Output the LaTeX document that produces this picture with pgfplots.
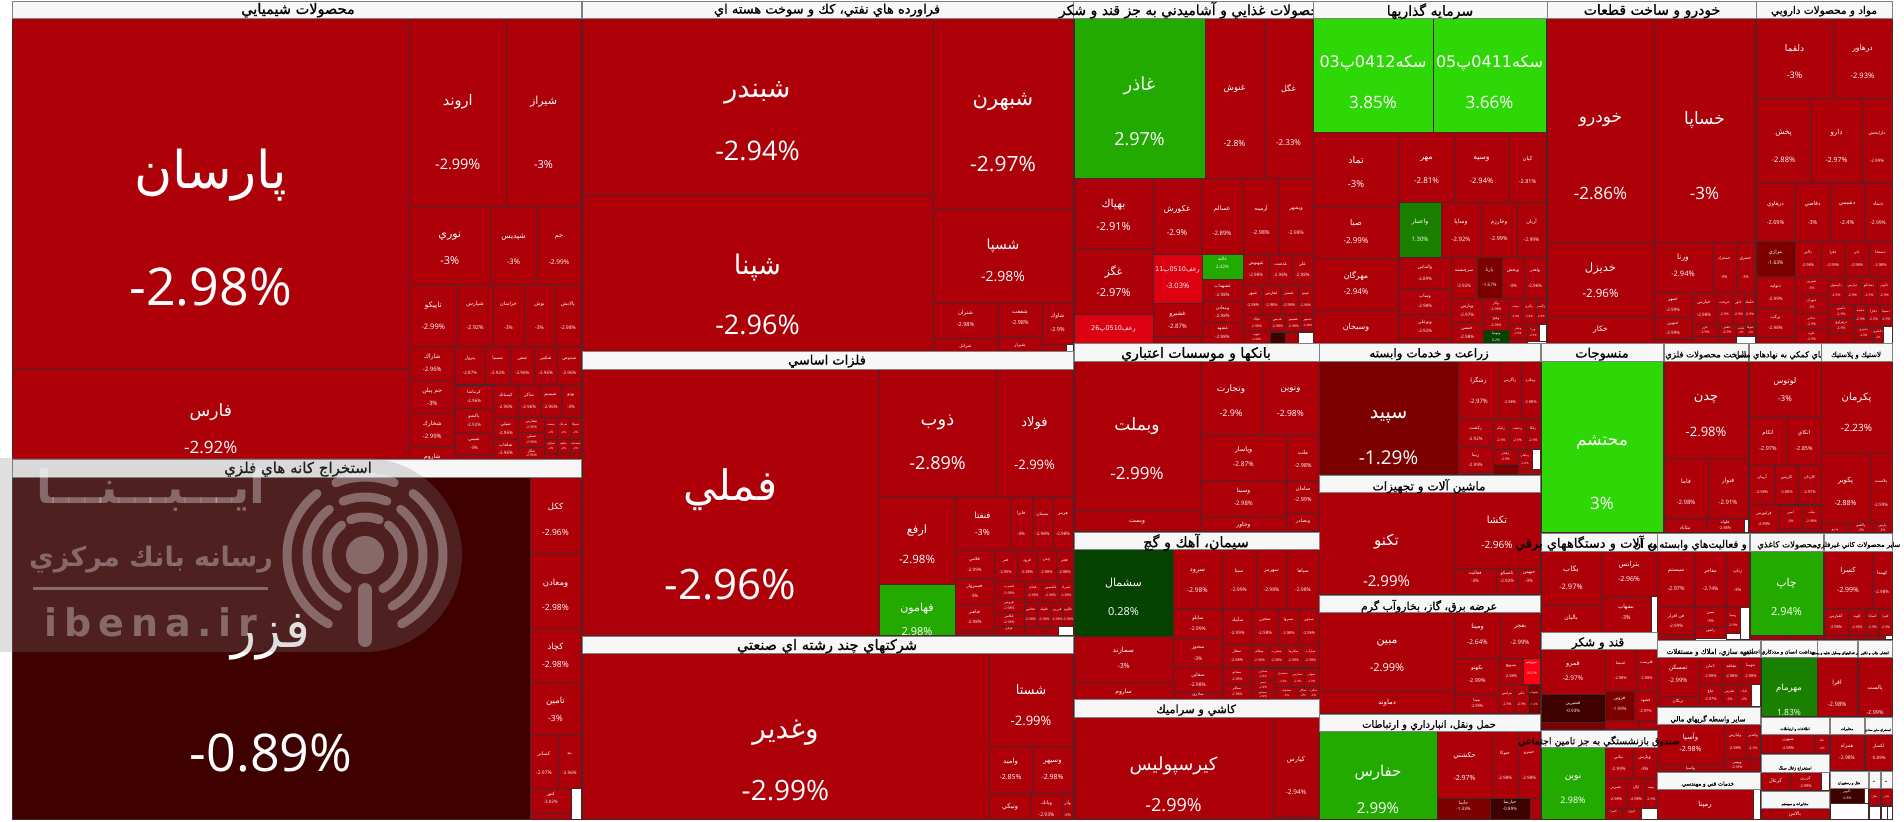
\documentclass[border=0pt]{standalone}
\usepackage{fontspec}
\usepackage{pgfplots}
\pgfplotsset{compat=1.18}
\setmainfont{Open Sans}
\newfontfamily\arabicfont[Script=Arabic]{DejaVu Sans}
\newfontfamily\hdfont[Script=Arabic,FakeBold=0.8]{DejaVu Sans}
\newfontfamily\wmfont{DejaVu Sans}
\TeXXeTstate=1
\definecolor{red0}{HTML}{AD0009}
\definecolor{red1}{HTML}{7D0000}
\definecolor{red2}{HTML}{3F0000}
\definecolor{red3}{HTML}{DD0011}
\definecolor{red4}{HTML}{FF0014}
\definecolor{grn0}{HTML}{22AA00}
\definecolor{grn1}{HTML}{2DD806}
\definecolor{grn2}{HTML}{1A8000}
\definecolor{grn3}{HTML}{044400}
\definecolor{cellline}{HTML}{4A2528}
\newcommand\ar[1]{{\arabicfont\beginR #1\endR}}
% rectangle in pixel coordinates
\newcommand\rc[5]{\addplot[fill=#5,draw=cellline,line width=.7pt] coordinates {(#1,#2) (#3,#2) (#3,#4) (#1,#4)} --cycle;}
\newcommand\lbl[4]{\edef\lblrun{\noexpand\node[text=white,inner sep=0pt,font=\noexpand\fontsize{#3}{#3}\noexpand\selectfont] at (axis cs:#1,#2) {\unexpanded{#4}};}\lblrun}
% cell with explicit label rows: x0 y0 x1 y1 colour size nameY pctY {name} {pct}
\newcommand\cl[9]{\rc{#1}{#2}{#3}{#4}{#5}\pgfmathsetmacro\mx{(#1+#3)/2}\lbl{\mx}{#7}{#6}{\ar{#9}}\clpct{#8}{#6}}
\newcommand\clpct[3]{\lbl{\mx}{#1}{#2}{#3}}
% small red cell, label rows placed automatically: x0 y0 x1 y1 size {name} {pct}
\newcommand\ct[7]{\rc{#1}{#2}{#3}{#4}{red0}\pgfmathsetmacro\mx{(#1+#3)/2}\pgfmathsetmacro\ny{#2+.33*(#4-#2)}\pgfmathsetmacro\py{#2+.7*(#4-#2)}\lbl{\mx}{\ny}{#5}{\ar{#6}}\lbl{\mx}{\py}{#5}{#7}}
% group header: x0 y0 x1 y1 cx cy size {title}
\newcommand\hd[8]{\addplot[fill=white!97!black,draw=gray,line width=.7pt] coordinates {(#1,#2) (#3,#2) (#3,#4) (#1,#4)} --cycle;\node[text=black,inner sep=0pt,yshift=-1.2pt,font=\fontsize{#7}{#7}\selectfont] at (axis cs:#5,#6) {\hdfont #8};}
\begin{document}
\begin{tikzpicture}
\begin{axis}[hide axis,scale only axis,width=1904pt,height=822pt,xmin=0,xmax=1904,ymin=0,ymax=822,y dir=reverse,clip=false]
% chemicals
\cl{12}{18}{409.5}{368}{red0}{52}{175}{287}{پارسان}{-2.98\%}
\cl{12}{368}{409.5}{460}{red0}{17}{412}{447}{فارس}{-2.92\%}
\cl{409.5}{18}{506}{206}{red0}{14.5}{102}{164}{اروند}{-2.99\%}
\cl{506}{18}{581}{206}{red0}{11}{102}{165}{شيراز}{-3\%}
\cl{409.5}{206}{490}{284}{red0}{11}{236}{261}{نوري}{-3\%}
\cl{490}{206}{537}{284}{red0}{7.5}{237}{262}{شپديس}{-3\%}
\cl{537}{206}{581}{284}{red0}{6.5}{237}{262}{جم}{-2.99\%}
\cl{409.5}{284}{457}{346}{red0}{7.5}{306}{327}{تاپيكو}{-2.99\%}
\ct{457}{284}{493}{346}{5.5}{شپارس}{-2.92\%}
\ct{493}{284}{524}{346}{5}{خراسان}{-3\%}
\ct{524}{284}{555}{346}{5}{نوش}{-3\%}
\ct{555}{284}{581}{346}{5}{پالايش}{-2.98\%}
\ct{409.5}{346}{455}{380}{6}{شاراك}{-2.96\%}
\ct{455}{346}{485}{384}{4.5}{پترول}{-2.87\%}
\ct{485}{346}{510.5}{384}{4.5}{شسپا}{-2.92\%}
\ct{510.5}{346}{534}{384}{4.5}{شفن}{-2.96\%}
\ct{534}{346}{557.5}{384}{4.5}{شكبير}{-2.96\%}
\ct{557.5}{346}{581}{384}{4.5}{شدوص}{-2.96\%}
\ct{409.5}{380}{455}{413}{6}{\beginR جم پيلن\endR}{-3\%}
\ct{409.5}{413}{455}{446}{6}{شخارك}{-2.99\%}
\ct{409.5}{446}{455}{480}{6}{شاروم}{-2.96\%}
\ct{455}{385}{493}{408}{4.5}{كرماشا}{-2.96\%}
\ct{455}{408}{493}{432}{4.5}{پاكشو}{-2.92\%}
\ct{455}{432}{493}{454}{4.5}{شيمي}{-3\%}
\rc{455}{454}{493}{460}{red0}
\ct{493}{384}{518}{417}{4.5}{كيمياتك}{-2.96\%}
\ct{518}{384}{540}{417}{4.5}{شاكر}{-2.96\%}
\ct{540}{384}{561}{417}{4.5}{شيميم}{-2.96\%}
\ct{561}{384}{581}{417}{4.5}{بوتو}{-3\%}
\ct{493}{417}{518.5}{439}{4.5}{شپلي}{-2.96\%}
\ct{493}{439}{518.5}{459}{4.5}{شلعاب}{-2.96\%}
\ct{518.5}{417}{544.6}{432}{3.5}{شفارس}{-2.96\%}
\ct{518.5}{432}{544.6}{447}{3.5}{شملي}{-2.96\%}
\ct{518.5}{447}{544.6}{459}{3.5}{شگل}{-2.96\%}
\ct{544.6}{417}{557}{439}{3}{شنفت}{-2\%}
\ct{557}{417}{570}{439}{3}{شرنگ}{-2\%}
\ct{570}{417}{581}{439}{3}{شتوكا}{-2\%}
\ct{544.6}{439}{557}{453}{3}{شاوان}{-2\%}
\ct{557}{439}{570}{453}{3}{شلغم}{-2\%}
\ct{570}{439}{581}{453}{3}{شصدف}{-2\%}
\rc{544.6}{453}{557}{459}{red0}\rc{557}{453}{570}{459}{red0}\rc{570}{453}{581}{459}{red0}
% metal ore mining
\cl{12}{477}{530}{819}{red2}{52}{637}{753}{فزر}{-0.89\%}
\cl{530}{477}{581}{553}{red0}{8.5}{507}{532}{ككل}{-2.96\%}
\cl{530}{553}{581}{628}{red0}{8.5}{583}{607}{ومعادن}{-2.98\%}
\cl{530}{628}{581}{682}{red0}{8.5}{647}{664}{كچاد}{-2.98\%}
\cl{530}{682}{581}{735}{red0}{8.5}{701}{718}{تامين}{-3\%}
\cl{530}{735}{558}{788}{red0}{5}{754}{773}{كسانر}{-2.97\%}
\cl{558}{735}{581}{788}{red0}{4.5}{754}{773}{بند}{-2.96\%}
\cl{530}{788}{571.5}{813}{red0}{4.5}{794}{802}{كنور}{-3.02\%}
\rc{530}{813}{571.5}{819}{red0}\rc{571.5}{788}{581}{819}{white}
% refinery products
\cl{582}{18}{933}{195}{red0}{27}{93}{151}{شبندر}{-2.94\%}
\cl{582}{195}{933}{351}{red0}{27}{268}{325}{شپنا}{-2.96\%}
\cl{933}{18}{1073}{209}{red0}{21}{102}{164}{شبهرن}{-2.97\%}
\cl{933}{209}{1073}{303}{red0}{14}{246}{277}{شسپا}{-2.98\%}
\cl{933}{303}{998}{338}{red0}{5.5}{313}{325}{شتران}{-2.98\%}
\cl{998}{303}{1042}{337}{red0}{5.5}{312}{323}{شفقت}{-2.98\%}
\cl{1042}{303}{1073}{344}{red0}{5.5}{316}{330}{شاوك}{-2.9\%}
\cl{933}{338}{998}{351}{red0}{4.5}{346}{354}{شرانل}{}
\cl{998}{337}{1042}{351}{red0}{4.5}{345}{354}{شيراز}{}
\rc{1042}{344}{1066}{351}{red0}\rc{1066}{344}{1073}{351}{white}
% basic metals
\cl{582}{369}{879}{635}{red0}{42}{490}{585}{فملي}{-2.96\%}
\cl{879}{369}{996}{496}{red0}{18}{422}{463}{ذوب}{-2.89\%}
\cl{996}{369}{1073}{496}{red0}{13}{423}{465}{فولاد}{-2.99\%}
\cl{879}{496}{955}{584}{red0}{11.5}{531}{559}{ارفع}{-2.98\%}
\cl{879}{584}{955}{635}{grn0}{11}{609}{632}{فهامون}{2.98\%}
\cl{955}{496}{1010}{550}{red0}{8.5}{515}{532}{فنفتا}{-3\%}
\ct{1010}{496}{1032}{550}{4.5}{فايرا}{-3\%}
\ct{1032}{496}{1053}{550}{4.5}{سيمان}{-2.98\%}
\ct{1053}{496}{1073}{550}{4.5}{هرمز}{-2.98\%}
\ct{955}{550}{994}{578}{4.5}{فلامي}{-2.99\%}
\ct{994}{550}{1017}{581}{4}{فنر}{-2.95\%}
\ct{1017}{550}{1037}{581}{4}{فرود}{-2.98\%}
\ct{1037}{550}{1056}{581}{4}{چدن}{-2.98\%}
\ct{1056}{550}{1073}{581}{4}{فجر}{-2.98\%}
\ct{955}{578}{994}{604}{4.5}{فسبزوار}{-3\%}
\ct{955}{604}{994}{630}{4.5}{فباهنر}{-2.98\%}
\rc{955}{630}{994}{635}{red0}
\ct{994}{581}{1024}{598}{3.5}{فسرب}{-2.98\%}
\ct{994}{598}{1024}{612}{3.5}{فروس}{-2.98\%}
\ct{994}{612}{1024}{626}{3.5}{فكاس}{-2.98\%}
\ct{994}{626}{1024}{635}{3}{فولاي}{}
\ct{1024}{581}{1042}{602}{3.5}{فجام}{-2.98\%}
\ct{1042}{581}{1059}{602}{3.5}{فاسمين}{-2.98\%}
\ct{1059}{581}{1073}{602}{3.5}{فمراد}{-2.98\%}
\ct{1024}{602}{1037}{626}{3.5}{فخاس}{-2.98\%}
\ct{1037}{602}{1051}{626}{3.5}{فلوله}{-2.98\%}
\ct{1051}{602}{1063}{626}{3.5}{فزرين}{-2.98\%}
\ct{1063}{602}{1073}{626}{3.5}{فالوم}{-2.98\%}
\rc{1024}{626}{1044}{635}{red0}\rc{1044}{626}{1058}{635}{red0}\rc{1058}{626}{1073}{635}{white}
% diversified industrials
\cl{582}{653}{989}{819}{red0}{28}{733}{791}{وغدير}{-2.99\%}
\cl{989}{653}{1073}{746}{red0}{13}{690}{721}{شستا}{-2.99\%}
\cl{989}{746}{1032}{793}{red0}{7}{762}{777}{واميد}{-2.85\%}
\cl{1032}{746}{1073}{793}{red0}{7}{762}{777}{وسپهر}{-2.98\%}
\cl{989}{793}{1031}{819}{red0}{6.5}{807}{824}{ونيكي}{}
\cl{1031}{793}{1062}{819}{red0}{5}{803}{815}{وبانك}{-2.93\%}
\cl{1062}{793}{1073}{819}{red0}{4}{803}{815}{وآذر}{-2\%}
% food
\cl{1074}{18}{1205}{178}{grn0}{18}{86}{139}{غاذر}{2.97\%}
\cl{1205}{18}{1264}{178}{red0}{8.5}{89}{143}{غنوش}{-2.8\%}
\cl{1264}{18}{1313}{178}{red0}{8}{89}{143}{غگل}{-2.33\%}
\cl{1074}{178}{1153}{248}{red0}{11}{205}{227}{بهپاك}{-2.91\%}
\cl{1074}{248}{1153}{314}{red0}{11}{272}{293}{غگز}{-2.97\%}
\rc{1074}{314}{1153}{343}{red3}\lbl{1113.5}{329}{6.5}{\ar{رعف\beginL 0510\endL پ\beginL 26\endL}}
\cl{1153}{178}{1201}{254}{red0}{8}{209}{233}{غكورش}{-2.9\%}
\cl{1201}{178}{1243}{254}{red0}{6}{209}{233}{غسالم}{-2.89\%}
\cl{1243}{178}{1279}{254}{red0}{5.5}{209}{233}{آرمينه}{-2.98\%}
\cl{1279}{178}{1313}{254}{red0}{5}{209}{233}{ويشهر}{-2.98\%}
\rc{1153}{254}{1202}{303}{red3}\lbl{1177.5}{270}{6.5}{\ar{رعف\beginL 0510\endL پ\beginL 11\endL}}\lbl{1177.5}{286}{7.5}{-3.03\%}
\cl{1202}{254}{1243}{279}{grn0}{4.5}{259}{267}{غاليه}{2.42\%}
\ct{1243}{254}{1269}{284}{4.5}{غبهنوش}{-2.98\%}
\ct{1269}{254}{1292}{284}{4.5}{غدشت}{-2.98\%}
\ct{1292}{254}{1313}{284}{4.5}{غلر}{-2.98\%}
\ct{1202}{279}{1243}{301}{4.5}{غشهداب}{-2.98\%}
\ct{1202}{301}{1243}{322}{4.5}{ومعادن}{-2.98\%}
\ct{1202}{322}{1243}{343}{4.5}{غشهد}{-2.98\%}
\ct{1243}{284}{1263}{314}{4}{غمهر}{-2.98\%}
\ct{1263}{284}{1280}{314}{4}{غفارس}{-2.98\%}
\ct{1280}{284}{1298}{314}{4}{غسبز}{-2.98\%}
\ct{1298}{284}{1313}{314}{3.5}{غپينو}{-2.98\%}
\ct{1243}{314}{1270}{331}{3.5}{غپاك}{-2.98\%}
\ct{1270}{314}{1285}{331}{3.5}{غديس}{-2.98\%}
\ct{1285}{314}{1302}{331}{3.5}{غصينو}{-2.98\%}
\ct{1302}{314}{1313}{331}{3}{غبشهر}{-2.98\%}
\ct{1243}{331}{1270}{343}{3}{غپونه}{-2.98\%}
\rc{1270}{332}{1285}{343}{red2}\rc{1285}{332}{1298}{343}{red0}\rc{1298}{332}{1313}{343}{white}
\ct{1153}{303}{1202}{336}{6}{غشيرو}{-2.87\%}
\rc{1153}{336}{1202}{343}{red0}
% investments
\rc{1313}{18}{1433}{132}{grn1}\lbl{1373}{63}{16}{\ar{سكه\beginL 0412\endL پ\beginL 03\endL}}\lbl{1373}{102}{17}{3.85\%}
\rc{1433}{18}{1546}{132}{grn1}\lbl{1489.5}{63}{16}{\ar{سكه\beginL 0411\endL پ\beginL 05\endL}}\lbl{1489.5}{102}{17}{3.66\%}
\cl{1313}{132}{1399}{206}{red0}{9.5}{160}{184}{تماد}{-3\%}
\cl{1399}{132}{1454}{202}{red0}{8}{159}{181}{مهر}{-2.81\%}
\cl{1454}{132}{1509}{202}{red0}{7.5}{159}{181}{وسپه}{-2.94\%}
\cl{1509}{132}{1546}{202}{red0}{5.5}{159}{182}{كيان}{-2.81\%}
\cl{1313}{206}{1399}{258}{red0}{8}{223}{241}{صبا}{-2.99\%}
\cl{1313}{258}{1399}{310}{red0}{8}{276}{292}{مهرگان}{-2.94\%}
\cl{1313}{310}{1399}{343}{red0}{8}{327}{341}{وسبحان}{}
\cl{1399}{202}{1441}{257}{grn2}{6}{222}{239}{واعتبار}{1.30\%}
\cl{1441}{202}{1481}{257}{red0}{6}{222}{239}{وساپا}{-2.92\%}
\cl{1481}{202}{1517}{257}{red0}{5.5}{222}{239}{وخارزم}{-2.99\%}
\cl{1517}{202}{1546}{257}{red0}{5}{222}{240}{آريان}{-2.99\%}
\ct{1399}{257}{1451}{288}{4.5}{والماس}{-2.89\%}
\ct{1399}{288}{1451}{314}{4.5}{وساپ}{-2.98\%}
\ct{1399}{314}{1451}{338}{4.5}{وبوعلي}{-2.92\%}
\rc{1399}{338}{1451}{343}{red0}
\ct{1451}{257}{1477}{298}{4.5}{سرچشمه}{-2.92\%}
\rc{1477}{257}{1502}{298}{red1}\lbl{1489.5}{270}{4.5}{\ar{پارتا}}\lbl{1489.5}{285}{4.5}{-1.67\%}
\ct{1502}{257}{1524}{298}{4.5}{وپخش}{-3\%}
\ct{1524}{257}{1546}{298}{4.5}{ولغدر}{-2.96\%}
\ct{1451}{298}{1483}{322}{4.5}{وپارس}{-2.97\%}
\ct{1451}{322}{1483}{343}{4.5}{خمس}{-2.98\%}
\ct{1483}{298}{1509}{314}{3.5}{وكار}{-2.98\%}
\ct{1483}{314}{1509}{330}{3.5}{وفتخ}{-2.98\%}
\rc{1483}{330}{1509}{343}{grn3}\lbl{1496}{334}{3.5}{\ar{وتوصا}}\lbl{1496}{340}{3.5}{0.2\%}
\ct{1509}{298}{1522}{324}{3}{ونفت}{-2.9\%}
\ct{1522}{298}{1536}{324}{3}{وآفري}{-2.9\%}
\ct{1536}{298}{1546}{324}{3}{وگستر}{-2.9\%}
\ct{1509}{324}{1527}{338}{3}{وملي}{-2.9\%}
\rc{1509}{338}{1527}{343}{red0}
\ct{1527}{324}{1539}{341}{3}{ورنا}{-2.9\%}
\rc{1539}{324}{1546}{341}{white}\rc{1527}{341}{1546}{343}{white}
% automotive
\cl{1547}{18}{1654}{242}{red0}{17}{120}{193}{خودرو}{-2.86\%}
\cl{1654}{18}{1755}{242}{red0}{17}{120}{193}{خساپا}{-3\%}
\cl{1547}{242}{1654}{316}{red0}{11.5}{269}{293}{خديزل}{-2.96\%}
\cl{1547}{316}{1654}{343}{red0}{7.5}{330}{345}{خكار}{}
\cl{1654}{242}{1712}{292}{red0}{7.5}{258}{274}{ورنا}{-2.94\%}
\ct{1712}{242}{1736}{292}{4}{خمحرك}{-3\%}
\ct{1736}{242}{1755}{292}{4}{خشرق}{-3\%}
\ct{1654}{292}{1692}{317}{4.5}{خمهر}{-2.99\%}
\ct{1654}{317}{1692}{339}{4.5}{خنوين}{-2.99\%}
\rc{1654}{339}{1692}{343}{red0}
\ct{1692}{292}{1716}{324}{4.5}{خپارس}{-2.98\%}
\ct{1716}{292}{1733}{324}{3.5}{خريخت}{-2.9\%}
\ct{1733}{292}{1744}{324}{3.5}{خاور}{-2.9\%}
\ct{1744}{292}{1755}{324}{3.5}{خكمك}{-2.9\%}
\ct{1692}{324}{1718}{336}{3.5}{خزر}{-2.9\%}
\ct{1718}{324}{1736}{336}{3.5}{خفنر}{-2.9\%}
\ct{1736}{324}{1746}{336}{3}{خلنت}{-2\%}
\ct{1746}{324}{1755}{336}{3}{ختوقا}{-2\%}
\rc{1692}{336}{1718}{343}{red0}\rc{1718}{336}{1736}{343}{red0}\rc{1736}{336}{1755}{343}{white}
% pharma
\cl{1756}{18}{1833}{98}{red0}{9}{48}{75}{دلقما}{-3\%}
\cl{1833}{18}{1892}{98}{red0}{7.5}{49}{76}{درهاور}{-2.93\%}
\cl{1756}{98}{1811}{183}{red0}{7.5}{133}{160}{پخش}{-2.88\%}
\cl{1811}{98}{1862}{183}{red0}{7}{133}{160}{دارو}{-2.97\%}
\cl{1862}{98}{1892}{183}{red0}{4.5}{133}{161}{داراپخش}{-2.99\%}
\cl{1756}{183}{1795}{241}{red0}{5.5}{204}{223}{درهاوي}{-2.69\%}
\cl{1795}{183}{1830}{241}{red0}{5.5}{204}{223}{دقاضي}{-3\%}
\cl{1830}{183}{1864}{241}{red0}{5.5}{204}{223}{دشيمي}{-2.4\%}
\cl{1864}{183}{1892}{241}{red0}{5}{204}{223}{دتماد}{-2.99\%}
\cl{1756}{241}{1795}{276}{red1}{5}{252}{263}{مرازي}{-1.63\%}
\ct{1795}{241}{1821}{276}{4}{دالبر}{-2.98\%}
\ct{1821}{241}{1845}{276}{4}{دفرا}{-2.99\%}
\ct{1845}{241}{1869}{276}{4}{دلر}{-2.98\%}
\ct{1869}{241}{1892}{276}{4}{دسبحا}{-2.98\%}
\ct{1756}{276}{1795}{308}{4.5}{دتوليد}{-2.99\%}
\ct{1756}{308}{1795}{337}{4.5}{بركت}{-2.98\%}
\rc{1756}{337}{1795}{343}{red0}
\ct{1795}{276}{1828}{294}{3.5}{شيرين}{-3\%}
\ct{1795}{294}{1828}{313}{3.5}{دتهران}{-3\%}
\ct{1795}{313}{1828}{329}{3.5}{دجابر}{-2.9\%}
\ct{1795}{329}{1828}{343}{3.5}{داوه}{-2.9\%}
\ct{1828}{276}{1844}{304}{3.5}{دكپسول}{-2.9\%}
\ct{1844}{276}{1861}{304}{3.5}{دپارس}{-2.9\%}
\ct{1861}{276}{1877}{304}{3.5}{دسانكو}{-2.9\%}
\ct{1877}{276}{1892}{304}{3.5}{دكوثر}{-2.9\%}
\ct{1828}{304}{1854}{318}{3.5}{دامين}{-2.9\%}
\ct{1828}{318}{1854}{333}{3.5}{دزهراوي}{-2.9\%}
\rc{1828}{333}{1854}{343}{red0}
\ct{1854}{304}{1867}{326}{3.5}{دعبيد}{-2.9\%}
\ct{1867}{304}{1880}{326}{3.5}{دفارا}{-2.9\%}
\ct{1880}{304}{1892}{326}{3.5}{دسينا}{-2.9\%}
\ct{1854}{326}{1873}{339}{3}{دشيري}{-2.9\%}
\rc{1854}{339}{1873}{343}{red0}\ct{1873}{326}{1883}{343}{3}{دالحاوي}{-2\%}\rc{1883}{326}{1892}{343}{white}
% banks
\cl{1074}{361}{1200}{510}{red0}{17}{426}{473}{وبملت}{-2.99\%}
\cl{1200}{361}{1262}{435}{red0}{9}{389}{413}{وتجارت}{-2.9\%}
\cl{1262}{361}{1319}{435}{red0}{8.5}{389}{413}{ونوين}{-2.98\%}
\cl{1200}{435}{1287}{480}{red0}{6.5}{450}{464}{وپاسار}{-2.87\%}
\cl{1200}{480}{1287}{517}{red0}{6}{491}{503}{وسينا}{-2.98\%}
\cl{1200}{517}{1287}{531}{red0}{6}{525}{535}{وخاور}{}
\cl{1287}{435}{1319}{480}{red0}{5.5}{452}{466}{ملت}{-2.98\%}
\cl{1287}{480}{1319}{513}{red0}{5.5}{489}{500}{سامان}{-2.99\%}
\cl{1287}{513}{1319}{531}{red0}{5}{521}{530}{وبصادر}{}
\cl{1074}{510}{1200}{531}{red0}{6}{522}{535}{وبست}{}
% cement
\cl{1074}{549}{1173}{636}{grn3}{11}{583}{612}{سشمال}{0.28\%}
\cl{1173}{549}{1222}{608}{red0}{6.5}{571}{590}{سرود}{-2.98\%}
\cl{1222}{549}{1256}{608}{red0}{5}{571}{590}{سيتا}{-2.99\%}
\cl{1256}{549}{1287}{608}{red0}{5}{571}{590}{سهرمز}{-2.98\%}
\cl{1287}{549}{1319}{608}{red0}{5}{571}{590}{سپاها}{-2.98\%}
\ct{1173}{608}{1223}{638}{5}{سايلو}{-2.99\%}
\ct{1173}{638}{1223}{667}{5}{سخوز}{-3\%}
\ct{1173}{667}{1223}{692}{5}{سقاين}{-2.98\%}
\ct{1173}{692}{1223}{699}{4}{ساذري}{}
\ct{1223}{608}{1252}{644}{4.5}{سآبيك}{-2.99\%}
\ct{1252}{608}{1278}{644}{4.5}{سخزر}{-2.98\%}
\ct{1278}{608}{1299}{644}{4}{سبزوا}{-2.98\%}
\ct{1299}{608}{1319}{644}{4}{سدور}{-2.98\%}
\ct{1223}{644}{1251}{667}{4}{سفار}{-2.98\%}
\ct{1251}{644}{1268}{667}{3.5}{سيلام}{-2.98\%}
\ct{1268}{644}{1285}{667}{3.5}{سغرب}{-2.98\%}
\ct{1285}{644}{1302}{667}{3.5}{سكرما}{-2.98\%}
\ct{1302}{644}{1319}{667}{3.5}{ساراب}{-2.98\%}
\ct{1223}{667}{1251}{684}{3.5}{سفانو}{-2.98\%}
\ct{1223}{684}{1251}{699}{3.5}{سباقر}{-2.98\%}
\ct{1251}{668}{1275}{680}{3}{سمازن}{-2.9\%}
\ct{1251}{680}{1275}{690}{3}{سنير}{-2.9\%}
\ct{1251}{690}{1275}{699}{3}{سبجنو}{-2.9\%}
\ct{1275}{668}{1291}{687}{3}{سشرق}{-2.9\%}
\ct{1291}{668}{1304}{687}{3}{سفارس}{-2.9\%}
\ct{1304}{668}{1319}{687}{3}{سبهان}{-2.9\%}
\ct{1275}{687}{1298}{699}{3}{سصوف}{-2\%}
\ct{1298}{687}{1308}{699}{3}{سكار}{-2\%}
\ct{1308}{687}{1319}{699}{3}{سكرد}{-2\%}
\cl{1074}{636}{1173}{682}{red0}{7}{651}{666}{سمازند}{-3\%}
\cl{1074}{682}{1173}{699}{red0}{6}{692}{703}{ساروم}{}
% tiles
\cl{1074}{717}{1273}{819}{red0}{18}{766}{805}{كيرسپوليس}{-2.99\%}
\cl{1273}{717}{1319}{817}{red0}{6.5}{760}{792}{كپارس}{-2.94\%}
\rc{1273}{817}{1319}{819}{red0}
% agriculture
\cl{1319}{361}{1458}{474}{red1}{19}{417}{458}{سپيد}{-1.29\%}
\ct{1458}{361}{1499}{419}{6}{زشگزا}{-2.97\%}
\ct{1499}{361}{1521}{419}{4}{زاگرس}{-2.98\%}
\ct{1521}{361}{1540}{419}{4}{زملارد}{-2.98\%}
\ct{1458}{419}{1493}{447}{4.5}{زكشت}{-2.92\%}
\ct{1493}{419}{1509}{449}{3.5}{زقيام}{-2.9\%}
\ct{1509}{419}{1526}{449}{3.5}{زدشت}{-2.9\%}
\ct{1526}{419}{1540}{449}{3.5}{زفكا}{-2.9\%}
\ct{1458}{447}{1493}{472}{4.5}{زبينا}{-2.99\%}
\rc{1458}{472}{1493}{474}{red0}
\ct{1493}{449}{1518}{464}{3.5}{زفجر}{-2.9\%}
\rc{1493}{464}{1518}{474}{red1}\rc{1518}{469}{1532}{474}{red0}
\ct{1518}{449}{1532}{469}{3}{زماهان}{-2.9\%}\rc{1532}{449}{1540}{469}{white}\rc{1532}{469}{1540}{474}{red0}
% machinery
\cl{1319}{492}{1454}{594}{red0}{15}{542}{581}{تكنو}{-2.99\%}
\cl{1454}{492}{1540}{568}{red0}{10}{520}{545}{تكشا}{-2.96\%}
\cl{1454}{568}{1496}{594}{red0}{4.5}{573}{581}{فعاليت}{-3\%}
\cl{1496}{568}{1518}{594}{red0}{4.5}{573}{581}{تاصيكو}{-2.92\%}
\cl{1518}{568}{1540}{594}{red0}{4.5}{573}{581}{خبهمن}{-3\%}
% energy
\cl{1319}{612}{1455}{691}{red0}{11}{643}{668}{مبين}{-2.99\%}
\cl{1319}{691}{1455}{713}{red0}{7}{703}{716}{دماوند}{}
\cl{1455}{612}{1500}{658}{red0}{6.5}{627}{642}{ومينا}{-2.64\%}
\cl{1500}{612}{1540}{658}{red0}{6}{627}{642}{بفجر}{-2.99\%}
\cl{1455}{658}{1499}{694}{red0}{5.5}{668}{681}{بكهنو}{-2.99\%}
\cl{1455}{694}{1499}{713}{red0}{4}{700}{706}{بمپنا}{-2.99\%}
\ct{1499}{658}{1523}{684}{4}{بسويچ}{-2.98\%}
\rc{1523}{658}{1540}{684}{red4}\lbl{1531.5}{663}{3.5}{\ar{سوژهم}}\lbl{1531.5}{673}{3.5}{-3.51\%}
\ct{1499}{684}{1515}{713}{3.5}{بترانس}{-2.9\%}
\ct{1515}{684}{1528}{713}{3.5}{بالبر}{-2.9\%}
\rc{1528}{684}{1540}{713}{red1}\lbl{1534}{693}{3}{\ar{بشهاب}}\lbl{1534}{704}{3}{-1.2\%}
% transport
\cl{1319}{731}{1437}{819}{grn0}{15}{773}{808}{حفارس}{2.99\%}
\cl{1437}{731}{1492}{798}{red0}{7}{756}{778}{حكشتي}{-2.97\%}
\ct{1492}{731}{1518}{798}{4.5}{حتوكا}{-2.98\%}
\ct{1518}{731}{1540}{798}{4.5}{حپترو}{-2.98\%}
\cl{1437}{798}{1490}{819}{red1}{4.5}{802}{809}{حآسا}{-1.33\%}
\cl{1490}{798}{1530}{819}{red2}{4.5}{802}{809}{حپارسا}{-0.89\%}
\rc{1530}{798}{1540}{819}{red0}
% textiles
\cl{1541}{361}{1663}{532}{grn1}{17}{443}{503}{محتشم}{3\%}
% metal products
\cl{1664}{361}{1748}{458}{red0}{13}{399}{432}{چدن}{-2.98\%}
\cl{1664}{458}{1708}{519}{red0}{6}{481}{502}{فاما}{-2.98\%}
\cl{1708}{458}{1748}{519}{red0}{6}{481}{502}{فنوار}{-2.91\%}
\cl{1664}{519}{1706}{532}{red0}{5}{528}{538}{مثاباد}{}
\cl{1706}{519}{1744}{532}{red0}{4}{522}{528}{فلوله}{-2.98\%}
\rc{1744}{519}{1748}{532}{white}
% financial support
\cl{1749}{361}{1821}{417}{red0}{8}{381}{399}{لوتوس}{-3\%}
\cl{1749}{417}{1787}{464}{red0}{5.5}{433}{449}{اتكام}{-2.97\%}
\cl{1787}{417}{1821}{464}{red0}{5.5}{433}{449}{اتكاي}{-2.85\%}
\ct{1749}{464}{1775}{504}{4}{آرمان}{-2.98\%}
\ct{1775}{464}{1798}{504}{4}{كاريس}{-2.98\%}
\ct{1798}{464}{1821}{504}{4}{كاردان}{-2.97\%}
\ct{1749}{504}{1779}{532}{4}{فرابورس}{-2.99\%}
\ct{1779}{505}{1802}{528}{3.5}{امين}{-3\%}
\ct{1802}{505}{1821}{528}{3.5}{ملت}{-2.98\%}
\rc{1779}{528}{1802}{532}{red0}\rc{1802}{528}{1821}{532}{red0}
% plastics
\cl{1821}{361}{1892}{453}{red0}{10}{398}{428}{پكرمان}{-2.23\%}
\cl{1821}{453}{1870}{523}{red0}{7}{481}{503}{پكوير}{-2.88\%}
\cl{1870}{453}{1892}{523}{red0}{4.5}{481}{505}{پلاست}{-2.99\%}
\cl{1821}{523}{1849}{532}{red0}{3.5}{530}{536}{پدرو}{}
\cl{1849}{523}{1873}{532}{red0}{3.5}{526}{530}{پاكشو}{-2\%}
\cl{1873}{523}{1892}{532}{red0}{3.5}{526}{530}{پارس}{-2\%}
% electrical
\cl{1541}{551}{1601}{605}{red0}{7.5}{569}{587}{بكاب}{-2.97\%}
\cl{1601}{551}{1657}{596}{red0}{7}{565}{579}{بترانس}{-2.96\%}
\cl{1541}{605}{1601}{632}{red0}{6}{618}{632}{باليان}{}
\cl{1601}{596}{1651}{632}{red0}{5.5}{607}{618}{بشهاب}{-3\%}
\rc{1651}{596}{1657}{632}{white}
% sugar
\cl{1541}{649}{1605}{694}{red0}{6.5}{664}{678}{قمرو}{-2.97\%}
\ct{1605}{649}{1636}{691}{4}{قنيشا}{-2.98\%}
\ct{1636}{649}{1657}{691}{4}{قلرست}{-2.98\%}
\cl{1541}{694}{1605}{722}{red2}{4.5}{704}{711}{قشيرين}{-0.93\%}
\cl{1605}{691}{1634}{720}{red1}{4.5}{699}{709}{قزوين}{-1.99\%}
\ct{1634}{691}{1657}{720}{4}{قشهد}{-2.97\%}
\rc{1541}{722}{1605}{729}{red1}\rc{1605}{720}{1639}{729}{red0}\rc{1639}{720}{1657}{729}{red0}
% pension funds
\cl{1541}{747}{1605}{819}{grn0}{9}{777}{800}{نوين}{2.98\%}
\ct{1605}{747}{1632}{778}{4.5}{بياني}{-2.99\%}
\ct{1632}{747}{1657}{778}{4.5}{وپارس}{-3\%}
\ct{1605}{778}{1627}{808}{4}{شبريز}{-2.98\%}
\ct{1627}{778}{1645}{808}{4}{اپال}{-2.98\%}
\ct{1645}{778}{1657}{808}{3.5}{بيمه}{-2.9\%}
\ct{1605}{808}{1622}{819}{3}{كسرا}{}
\ct{1622}{808}{1641}{819}{3}{كيوان}{}
\rc{1641}{808}{1657}{819}{white}
% computers
\cl{1657}{551}{1695}{607}{red0}{5.5}{571}{589}{سيستم}{-2.97\%}
\cl{1695}{551}{1726}{607}{red0}{5}{571}{589}{مفاخر}{-2.74\%}
\cl{1726}{551}{1749}{607}{red0}{4.5}{571}{590}{رتاپ}{-3\%}
\ct{1657}{607}{1695}{634}{4.5}{\beginR فن افزار\endR}{-2.99\%}
\rc{1657}{634}{1695}{639}{red0}
\ct{1695}{607}{1726}{627}{4}{مبين}{-3\%}
\ct{1695}{627}{1726}{638}{3.5}{رانفور}{}
\ct{1726}{607}{1740}{633}{3.5}{رسپا}{-2.9\%}
\rc{1740}{607}{1749}{639}{white}\rc{1726}{633}{1740}{639}{white}
% paper
\cl{1750}{551}{1823}{635}{grn0}{11}{584}{612}{چاپ}{2.94\%}
\rc{1750}{635}{1790}{639}{red0}\rc{1790}{635}{1823}{639}{red0}
% non-metallic mineral products
\cl{1824}{551}{1872}{608}{red0}{7}{571}{590}{كسرا}{-2.99\%}
\cl{1872}{551}{1892}{608}{red0}{4.5}{573}{592}{كهمدا}{-2.98\%}
\ct{1824}{608}{1848}{635}{4}{كفپارس}{-2.98\%}
\ct{1848}{608}{1866}{635}{3.5}{كلوند}{-2.98\%}
\ct{1866}{608}{1879}{635}{3.5}{كساپا}{-2.9\%}
\ct{1879}{608}{1892}{635}{3.5}{كفرا}{-2.9\%}
\rc{1824}{635}{1848}{639}{red0}\rc{1848}{635}{1866}{639}{red0}\rc{1866}{635}{1879}{639}{red0}\rc{1879}{635}{1885}{639}{red0}\rc{1885}{635}{1892}{639}{white}
% real estate
\cl{1657}{657}{1699}{696}{red0}{6}{668}{680}{ثمسكن}{-2.99\%}
\cl{1657}{696}{1699}{706}{red0}{4}{701}{706}{ثرنگان}{}
\ct{1699}{657}{1722}{684}{4}{ثامان}{-2.98\%}
\ct{1722}{657}{1741}{684}{4}{ثشاهد}{-2.98\%}
\ct{1741}{657}{1760}{684}{4}{ثنوسا}{-2.98\%}
\ct{1699}{684}{1722}{706}{4}{ثباغ}{-2.97\%}
\ct{1722}{684}{1737}{706}{3.5}{ثفارس}{-2\%}
\ct{1737}{684}{1751}{706}{3.5}{ثاباد}{-2\%}
\rc{1751}{684}{1760}{706}{white}
\cl{1761}{657}{1817}{716}{grn2}{8.5}{688}{712}{مهرمام}{1.83\%}
\cl{1817}{657}{1857}{716}{red0}{6}{683}{704}{اقرا}{-2.98\%}
\cl{1858}{657}{1892}{716}{red0}{5.5}{688}{713}{پالست}{-2.99\%}
% other financial
\cl{1657}{724}{1724}{764}{red0}{7}{737}{749}{وآسپا}{-2.98\%}
\cl{1657}{764}{1724}{771}{red0}{4}{768}{776}{واسپا}{}
\ct{1724}{724}{1746}{759}{4}{ولپارس}{-2.98\%}
\ct{1746}{724}{1760}{759}{3.5}{وكغدير}{-2.9\%}
\ct{1724}{759}{1750}{771}{3.5}{وبهمن}{-2.98\%}
\rc{1750}{759}{1760}{771}{red0}
\cl{1657}{789}{1753}{819}{red0}{7}{805}{825}{رمپنا}{}
\rc{1753}{789}{1760}{819}{white}
% small blocks at the lower right
\cl{1761}{734}{1815}{753}{red0}{4}{740}{748}{شبهرن}{-2.98\%}
\cl{1815}{734}{1829}{753}{red0}{3}{740}{748}{ناما}{-2\%}
\cl{1761}{772}{1790}{790}{red0}{5}{781}{795}{كزغال}{}
\cl{1790}{772}{1821}{790}{red0}{4}{778}{786}{كزرين}{-2.99\%}
\rc{1821}{772}{1829}{790}{white}
\cl{1761}{808}{1829}{819}{red0}{5}{814}{825}{بالاس}{}
\cl{1830}{734}{1864}{770}{red0}{5}{746}{758}{همراه}{-2.98\%}
\cl{1865}{734}{1892}{770}{red0}{4.5}{746}{758}{لكسار}{-0.89\%}
\cl{1830}{788}{1864}{803}{red2}{3.5}{792}{798}{اكوير}{-0.8\%}
\rc{1864}{788}{1868}{803}{white}
\cl{1869}{788}{1880}{805}{red0}{3}{797}{810}{بجان}{}
\cl{1881}{788}{1892}{805}{red0}{3}{797}{810}{سان}{}
\rc{1830}{803}{1868}{819}{white}\rc{1869}{806}{1880}{819}{white}\rc{1881}{806}{1887}{819}{white}\rc{1887}{806}{1892}{819}{white}
% group headers, left to right so that long titles run under the next header
\hd{12}{1}{581}{18}{298}{9}{14.5}{\beginR محصولات شيميايي\endR}
\hd{12}{459}{581}{477}{298}{468}{15}{\beginR استخراج كانه هاي فلزي\endR}
\hd{582}{1}{1073}{18}{827}{9}{13}{\beginR فراورده هاي نفتي، كك و سوخت هسته اي\endR}
\hd{582}{351}{1073}{369}{827}{360}{13}{\beginR فلزات اساسي\endR}
\hd{582}{636}{1073}{653}{827}{645}{14.5}{\beginR شركتهاي چند رشته اي صنعتي\endR}
\hd{1073}{1}{1313}{18}{1193}{9}{14}{\beginR محصولات غذايي و آشاميدني به جز قند و شكر\endR}
\hd{1313}{1}{1547}{18}{1430}{10}{14}{\beginR سرمايه گذاريها\endR}
\hd{1547}{1}{1756}{18}{1652}{10}{14}{\beginR خودرو و ساخت قطعات\endR}
\hd{1756}{1}{1892}{18}{1824}{10}{10.5}{\beginR مواد و محصولات دارويي\endR}
\hd{1074}{343}{1319}{361}{1196}{353}{14}{\beginR بانكها و موسسات اعتباري\endR}
\hd{1319}{343}{1540}{361}{1429}{353}{12}{\beginR زراعت و خدمات وابسته\endR}
\hd{1541}{343}{1663}{361}{1602}{353}{13}{\beginR منسوجات\endR}
\hd{1664}{343}{1748}{361}{1706}{354}{8.5}{\beginR ساخت محصولات فلزي\endR}
\hd{1749}{343}{1821}{361}{1788}{354}{8}{\beginR فعاليتهاي كمكي به نهادهاي مالي\endR}
\hd{1821}{343}{1892}{361}{1856}{354}{7}{\beginR لاستيك و پلاستيك\endR}
\hd{1074}{532}{1319}{549}{1196}{541}{14.5}{\beginR سيمان، آهك و گچ\endR}
\hd{1074}{699}{1319}{717}{1196}{709}{11.5}{\beginR كاشي و سراميك\endR}
\hd{1319}{475}{1540}{492}{1429}{485}{12}{\beginR ماشين آلات و تجهيزات\endR}
\hd{1319}{595}{1540}{612}{1429}{605}{11}{\beginR عرضه برق، گاز، بخاروآب گرم\endR}
\hd{1319}{714}{1540}{731}{1429}{724}{10}{\beginR حمل ونقل، انبارداري و ارتباطات\endR}
\hd{1541}{533}{1657}{551}{1599}{542}{13}{\beginR ماشين آلات و دستگاههاي برقي\endR}
\hd{1657}{533}{1749}{551}{1703}{543}{10.5}{\beginR رايانه و فعاليت‌هاي وابسته به آن\endR}
\hd{1750}{533}{1823}{551}{1787}{544}{8.5}{\beginR محصولات كاغذي\endR}
\hd{1824}{533}{1892}{551}{1858}{544}{6.8}{\beginR ساير محصولات كاني غيرفلزي\endR}
\hd{1541}{632}{1657}{649}{1598}{642}{12}{\beginR قند و شكر\endR}
\hd{1541}{730}{1657}{747}{1599}{740}{9.5}{\beginR صندوق بازنشستگي به جز تامين اجتماعي\endR}
\hd{1657}{640}{1760}{657}{1710}{651}{7}{\beginR انبوه سازي، املاك و مستغلات\endR}
\hd{1761}{640}{1817}{657}{1789}{651}{5}{\beginR فعاليتهاي بهداشت انسان و مددكاري اجتماعي\endR}
\hd{1817}{640}{1857}{657}{1837}{652}{3.5}{\beginR ساير فعاليتهاي وسايل نقليه و پستي\endR}
\hd{1858}{640}{1892}{657}{1875}{652}{3.5}{\beginR انتشار، چاپ و تكثير\endR}
\hd{1657}{707}{1760}{724}{1708}{718}{7}{\beginR ساير واسطه گريهاي مالي\endR}
\hd{1657}{772}{1760}{789}{1708}{783}{5.5}{\beginR خدمات فني و مهندسي\endR}
\hd{1761}{717}{1829}{734}{1795}{728}{3.5}{\beginR اطلاعات و ارتباطات\endR}
\hd{1761}{754}{1829}{772}{1795}{767}{4}{\beginR استخراج زغال سنگ\endR}
\hd{1761}{791}{1829}{808}{1795}{803}{3.5}{\beginR مخابرات و سيستم\endR}
\hd{1830}{717}{1864}{734}{1847}{728}{3.5}{\beginR مخابرات\endR}
\hd{1865}{717}{1892}{734}{1878}{729}{3}{\beginR استخراج ساير معادن\endR}
\hd{1830}{771}{1868}{788}{1849}{782}{3.5}{\beginR هتل و رستوران\endR}
\hd{1869}{771}{1880}{788}{1874}{780}{1}{\beginR ساير\endR}
\hd{1881}{771}{1892}{788}{1886}{780}{1}{\beginR ساير\endR}
% watermark
\fill[gray,opacity=.25] (axis cs:0,458) -- (axis cs:365,458) arc[start angle=90,end angle=-90,radius=97pt] -- (axis cs:0,652) -- cycle;
\begin{scope}[white,opacity=.33]
\node[inner sep=0pt,font=\fontsize{46}{46}\selectfont\bfseries] at (axis cs:151,490) {\ar{ايـــبـــنـــا}};
\node[inner sep=0pt,font=\fontsize{27}{27}\selectfont\bfseries] at (axis cs:151,560) {{\arabicfont\beginR رسانه بانك مركزي\endR}};
\fill (axis cs:33,587) rectangle (axis cs:268,590);
\node[inner sep=0pt,font=\fontsize{38}{38}\selectfont\wmfont\bfseries\addfontfeature{LetterSpace=18}] at (axis cs:151,622) {ibena.ir};
\fill (axis cs:365,555) circle[radius=19pt];
\draw[line width=14pt,line cap=round] (axis cs:365,590) -- (axis cs:365,640);
\draw[line width=9pt,line cap=round] (axis cs:365,555)
  ++(-62:38pt) arc[start angle=-62,end angle=52,radius=38pt]
  (axis cs:365,555) ++(-62:58pt) arc[start angle=-62,end angle=52,radius=58pt]
  (axis cs:365,555) ++(-62:78pt) arc[start angle=-62,end angle=52,radius=78pt]
  (axis cs:365,555) ++(128:38pt) arc[start angle=128,end angle=242,radius=38pt]
  (axis cs:365,555) ++(128:58pt) arc[start angle=128,end angle=242,radius=58pt]
  (axis cs:365,555) ++(128:78pt) arc[start angle=128,end angle=242,radius=78pt]
  (axis cs:365,555) ++(68:38pt) arc[start angle=68,end angle=112,radius=38pt]
  (axis cs:365,555) ++(68:58pt) arc[start angle=68,end angle=112,radius=58pt]
  (axis cs:365,555) ++(68:78pt) arc[start angle=68,end angle=112,radius=78pt];
\end{scope}
\end{axis}
\pgfresetboundingbox
\useasboundingbox (current axis.south west) rectangle (current axis.north east);
\end{tikzpicture}
\end{document}
